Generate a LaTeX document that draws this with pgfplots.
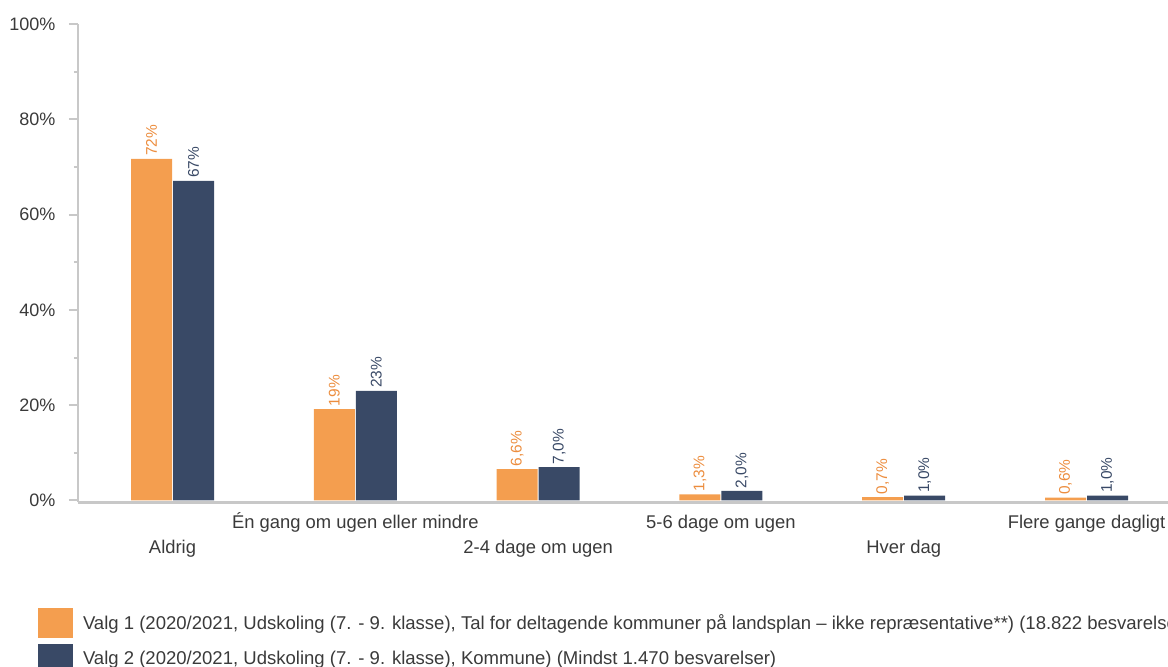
\documentclass[border=0pt]{standalone}
\usepackage{pgfplots}
\pgfplotsset{compat=1.18}
\usepackage{fontspec}
\setmainfont{Liberation Sans}
\definecolor{orng}{HTML}{F49E4F}
\definecolor{navy}{HTML}{394966}
\definecolor{orngtxt}{HTML}{EC8D3E}
\definecolor{axgray}{HTML}{C8C8C8}
\definecolor{txt}{HTML}{3A3A3A}
\begin{document}
\begin{tikzpicture}
\useasboundingbox (0,0) rectangle (876pt,500.25pt);
\clip (0,0) rectangle (876pt,500.25pt);
\begin{axis}[
  at={(58.5pt,123.375pt)}, anchor=south west,
  scale only axis, width=838.65pt, height=358.875pt,
  xmin=-0.517, xmax=5.6, ymin=-0.42, ymax=100,
  axis x line*=bottom, axis y line*=left,
  axis line style={axgray, line width=2pt, -},
  ytick={0,20,40,60,80,100},
  yticklabels={0\%,20\%,40\%,60\%,80\%,100\%},
  minor ytick={10,30,50,70,90},
  y tick style={axgray, line width=1.5pt},
  minor y tick style={axgray, line width=1.5pt},
  tick align=outside, major tick length=6.75pt, minor tick length=3pt,
  y tick label style={font=\fontsize{13.5}{16}\selectfont, text=txt, xshift=-6.75pt},
  xtick={0,1,2,3,4,5},
  x tick style={draw=none},
  xticklabels={{\strut\\Aldrig},{\strut Én gang om ugen eller mindre},{\strut\\2-4 dage om ugen},{\strut 5-6 dage om ugen},{\strut\\Hver dag},{\strut Flere gange dagligt}},
  x tick label style={font=\fontsize{13.8}{18.75}\selectfont, text=txt, align=center, anchor=north, yshift=4pt},
  ybar, bar width=30.75pt,
  nodes near coords, point meta=explicit symbolic,
  every node near coord/.append style={rotate=90, anchor=west, font=\fontsize{11.6}{13}\selectfont, inner sep=2pt},
  legend image code/.code={\fill[#1] (0pt,-11.5pt) rectangle (26.25pt,11pt);},
  legend style={draw=none, fill=none, at={(-0.03577,-0.2205)}, anchor=north west,
    inner sep=0pt, outer sep=0pt, font=\fontsize{13.9}{16}\selectfont, text=txt,
    row sep=4.5pt, column sep=7.5pt, nodes={inner sep=0pt, outer sep=0pt}},
  legend cell align=left,
]
\addplot[fill=orng, draw=none, bar shift=-15.75pt,
  every node near coord/.append style={text=orngtxt}] coordinates {
  (0,71.7) [72\%]
  (1,19.2) [19\%]
  (2,6.6) [6,6\%]
  (3,1.3) [1,3\%]
  (4,0.7) [0,7\%]
  (5,0.6) [0,6\%]
};
\addlegendentry{Valg 1 (2020/2021, Udskoling (7. - 9. klasse), Tal for deltagende kommuner på landsplan – ikke repræsentative**) (18.822 besvarelser)}
\addplot[fill=navy, draw=none, bar shift=15.75pt,
  every node near coord/.append style={text=navy}] coordinates {
  (0,67.1) [67\%]
  (1,23.0) [23\%]
  (2,7.0) [7,0\%]
  (3,2.0) [2,0\%]
  (4,1.0) [1,0\%]
  (5,1.0) [1,0\%]
};
\addlegendentry{Valg 2 (2020/2021, Udskoling (7. - 9. klasse), Kommune) (Mindst 1.470 besvarelser)}
\end{axis}
\end{tikzpicture}
\end{document}
